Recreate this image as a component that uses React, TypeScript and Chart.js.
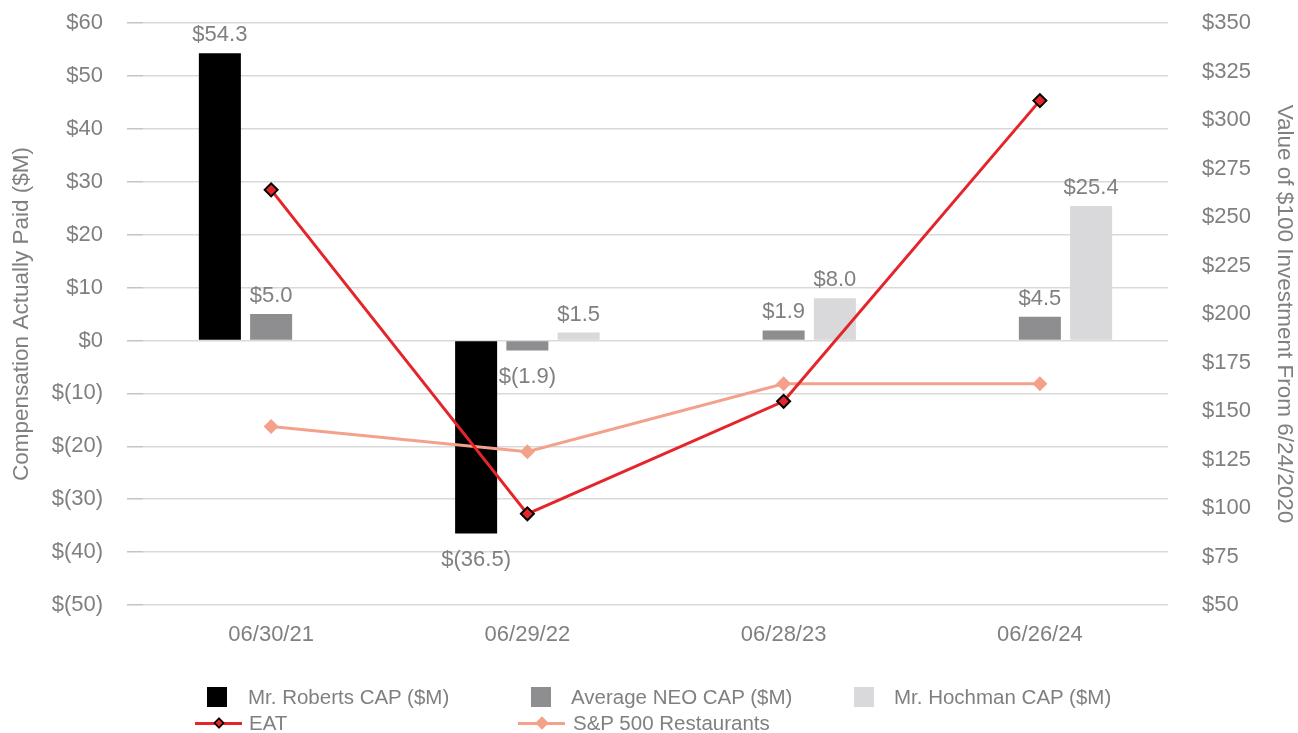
import React, { useEffect, useRef } from "react";
import { Chart, registerables } from "chart.js";

Chart.register(...registerables);

const categories = ["06/30/21", "06/29/22", "06/28/23", "06/26/24"];
const robertsCap = [54.3, -36.5, null, null];
const neoCap = [5.0, -1.9, 1.9, 4.5];
const hochmanCap = [null, 1.5, 8.0, 25.4];
const eatValues = [264, 97, 155, 310];
const spRestaurants = [142, 129, 164, 164];
const leftTicks = { min: -50, max: 60, step: 10 };
const rightTicks = { min: 50, max: 350, step: 25 };

const FONT = "'Liberation Sans', Arial, Helvetica, sans-serif";
const TEXT = "#808080";
const GRID = "#d9d9d9";
const RED = "#e4262a";
const SALMON = "#f4a18b";
const BLACK = "#000000";
const GRAY = "#8e8e90";
const LIGHT = "#d9d9db";

const fmtMoney = (v: number, dec: boolean) => {
  const s = dec ? Math.abs(v).toFixed(1) : String(Math.abs(v));
  return v < 0 ? `$(${s})` : `$${s}`;
};

const barLabelPlugin = {
  id: "barLabels",
  afterDatasetsDraw(chart: any) {
    const ctx = chart.ctx;
    ctx.save();
    ctx.font = `22px ${FONT}`;
    ctx.fillStyle = TEXT;
    ctx.textAlign = "center";
    ctx.textBaseline = "middle";
    chart.data.datasets.forEach((ds: any, i: number) => {
      if (ds.type === "line") return;
      const meta = chart.getDatasetMeta(i);
      meta.data.forEach((el: any, j: number) => {
        const v = ds.data[j];
        if (v === null || v === undefined) return;
        const y = v >= 0 ? el.y - 18 : el.y + 26;
        ctx.fillText(fmtMoney(v, true), el.x, y);
      });
    });
    ctx.restore();
  },
};

export default function App() {
  const ref = useRef<HTMLCanvasElement | null>(null);

  useEffect(() => {
    if (!ref.current) return;
    Chart.defaults.font.family = FONT;
    Chart.defaults.color = TEXT;
    const chart = new Chart(ref.current, {
      type: "bar",
      data: {
        labels: categories,
        datasets: [
          {
            type: "line",
            label: "EAT",
            data: eatValues,
            yAxisID: "y1",
            borderColor: RED,
            backgroundColor: RED,
            borderWidth: 3,
            pointStyle: "rectRot",
            pointRadius: 6.5,
            pointBackgroundColor: RED,
            pointBorderColor: "#000",
            pointBorderWidth: 2,
            order: 0,
          } as any,
          {
            type: "line",
            label: "S&P 500 Restaurants",
            data: spRestaurants,
            yAxisID: "y1",
            borderColor: SALMON,
            backgroundColor: SALMON,
            borderWidth: 3,
            pointStyle: "rectRot",
            pointRadius: 7.5,
            pointBackgroundColor: SALMON,
            pointBorderColor: SALMON,
            pointBorderWidth: 0,
            order: 1,
          } as any,
          {
            label: "Mr. Roberts CAP ($M)",
            data: robertsCap,
            backgroundColor: BLACK,
            yAxisID: "y",
            order: 2,
          },
          {
            label: "Average NEO CAP ($M)",
            data: neoCap,
            backgroundColor: GRAY,
            yAxisID: "y",
            order: 2,
          },
          {
            label: "Mr. Hochman CAP ($M)",
            data: hochmanCap,
            backgroundColor: LIGHT,
            yAxisID: "y",
            order: 2,
          },
        ],
      },
      options: {
        responsive: false,
        animation: false,
        devicePixelRatio: 1,
        datasets: {
          bar: { categoryPercentage: 0.6, barPercentage: 0.82 },
        },
        layout: { padding: { top: 23, left: 0, right: 0, bottom: 0 } },
        plugins: {
          legend: { display: false },
          tooltip: { enabled: false },
        },
        scales: {
          x: {
            grid: { display: false, drawTicks: false },
            border: { display: false },
            ticks: { font: { size: 22 }, color: TEXT, padding: 17 },
            afterFit: (s: any) => {
              s.height = 128;
            },
          },
          y: {
            position: "left",
            min: leftTicks.min,
            max: leftTicks.max,
            ticks: {
              stepSize: leftTicks.step,
              font: { size: 22 },
              color: TEXT,
              padding: 24,
              callback: (v: any) => fmtMoney(Number(v), false),
            },
            grid: {
              color: GRID,
              lineWidth: 1.5,
              tickLength: 16,
              tickColor: "#c4c4c4",
            },
            border: { display: false },
            title: {
              display: true,
              text: "Compensation Actually Paid ($M)",
              font: { size: 22.5 },
              color: TEXT,
              padding: { top: 8.5, bottom: 0 },
            },
            afterFit: (s: any) => {
              s.width = 143;
              s.paddingTop = 0;
              s.paddingBottom = 0;
            },
          },
          y1: {
            position: "right",
            min: rightTicks.min,
            max: rightTicks.max,
            ticks: {
              stepSize: rightTicks.step,
              font: { size: 22 },
              color: TEXT,
              padding: 34,
              callback: (v: any) => `$${v}`,
            },
            grid: { drawOnChartArea: false, drawTicks: false },
            border: { display: false },
            title: {
              display: true,
              text: "Value of $100 Investment From 6/24/2020",
              font: { size: 22.5 },
              color: TEXT,
              padding: { top: 0, bottom: 0 },
            },
            afterFit: (s: any) => {
              s.width = 130;
              s.paddingTop = 0;
              s.paddingBottom = 0;
            },
          },
        },
      },
      plugins: [barLabelPlugin],
    } as any);
    return () => chart.destroy();
  }, []);

  const textStyle: React.CSSProperties = {
    position: "absolute",
    fontFamily: FONT,
    fontSize: "20.5px",
    color: TEXT,
    lineHeight: "24px",
    whiteSpace: "nowrap",
  };
  const box = (left: number, top: number, color: string) => (
    <div
      style={{
        position: "absolute",
        left,
        top,
        width: 20,
        height: 20,
        background: color,
      }}
    />
  );
  const lineSample = (left: number, top: number, color: string, dark: boolean) => (
    <div style={{ position: "absolute", left, top, width: 47, height: 20 }}>
      <div
        style={{
          position: "absolute",
          left: 0,
          top: 8.5,
          width: 47,
          height: 3,
          background: color,
        }}
      />
      <div
        style={{
          position: "absolute",
          left: 23.5 - (dark ? 5 : 6),
          top: 10 - (dark ? 5 : 6),
          width: dark ? 10 : 12,
          height: dark ? 10 : 12,
          boxSizing: "border-box",
          background: color,
          border: dark ? "2px solid #000" : "none",
          transform: "rotate(45deg) scale(0.8)",
        }}
      />
    </div>
  );

  return (
    <div
      style={{
        position: "absolute",
        left: 0,
        top: 0,
        width: 1298,
        height: 733,
        background: "#fff",
      }}
    >
      <canvas
        ref={ref}
        width={1298}
        height={733}
        style={{ position: "absolute", left: 0, top: 0, width: 1298, height: 733 }}
      />
      {box(207, 687, BLACK)}
      <div style={{ ...textStyle, left: 248, top: 685 }}>Mr. Roberts CAP ($M)</div>
      {box(531, 687, GRAY)}
      <div style={{ ...textStyle, left: 571, top: 685 }}>Average NEO CAP ($M)</div>
      {box(854, 687, LIGHT)}
      <div style={{ ...textStyle, left: 894, top: 685 }}>Mr. Hochman CAP ($M)</div>
      {lineSample(195, 713, RED, true)}
      <div style={{ ...textStyle, left: 249, top: 711 }}>EAT</div>
      {lineSample(518, 713, SALMON, false)}
      <div style={{ ...textStyle, left: 573, top: 711 }}>S&amp;P 500 Restaurants</div>
    </div>
  );
}
